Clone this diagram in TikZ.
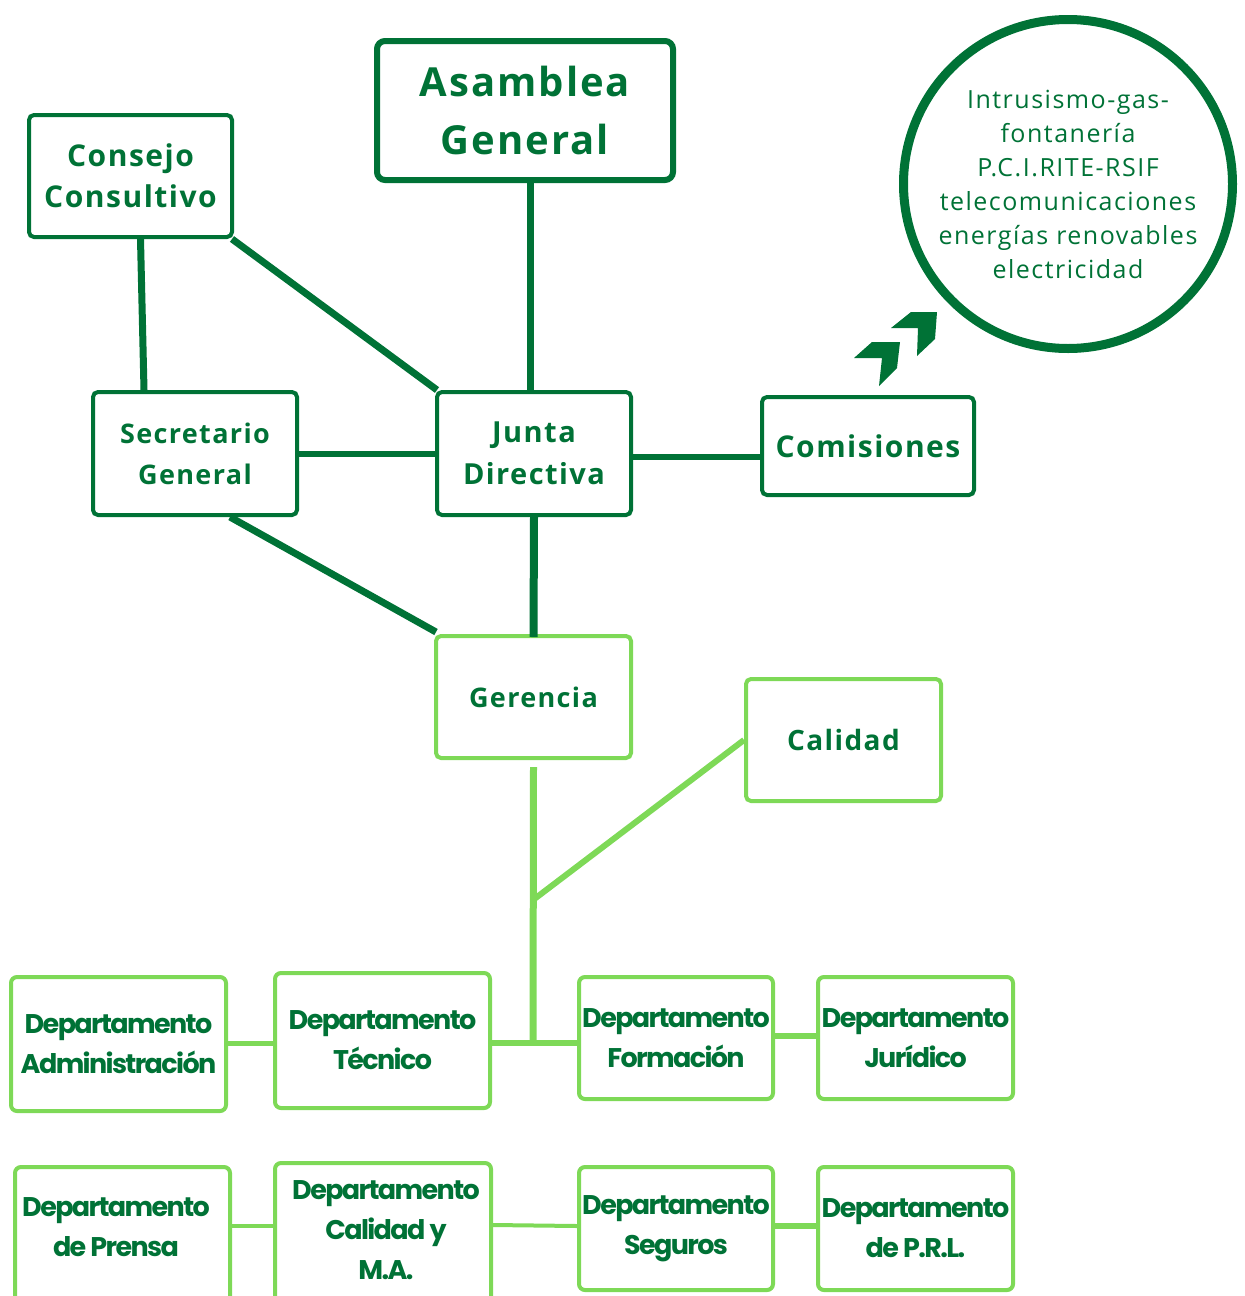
\documentclass[tikz,border=0pt]{standalone}
\usepackage{fontspec}
\setmainfont{Open Sans}
\newfontfamily\hfont{Open Sans}[LetterSpace=5]
\newfontfamily\cfont{Open Sans}[LetterSpace=6]
\newfontfamily\dfont{Poppins}[LetterSpace=-6]
\definecolor{dg}{RGB}{0,114,54}
\definecolor{lg}{RGB}{126,217,87}
\tikzset{
  topbox/.style={draw=dg, line width=4pt, rounded corners=5pt, text=dg, align=center, inner sep=0pt},
  deptbox/.style={draw=lg, line width=4pt, rounded corners=6pt, text=dg, align=center, inner sep=0pt,
    font=\dfont\bfseries\fontsize{27}{40}\selectfont},
  dline/.style={draw=dg, line width=7pt},
  lline/.style={draw=lg, line width=6pt},
  chev/.style={fill=dg, draw=none},
}
\newcommand\hf[2]{\hfont\bfseries\fontsize{#1}{#2}\selectfont}
\begin{document}
\begin{tikzpicture}[x=1pt,y=-1pt]
\useasboundingbox (0,0) rectangle (1245,1296);
\clip (0,0) rectangle (1245,1296);
% top level
\node[topbox, line width=6pt, rounded corners=8pt, minimum width=296pt, minimum height=139pt, font=\hf{40}{58}] (asam) at (525,110.5) {Asamblea\\General};
\node[topbox, minimum width=203pt, minimum height=122pt, font=\hf{30}{41}] (cons) at (130.5,176) {Consejo\\Consultivo};
\node[topbox, minimum width=204pt, minimum height=123pt, font=\hf{27}{41}] (secr) at (195,453.5) {Secretario\\General};
\node[topbox, minimum width=194pt, minimum height=123pt, font=\hf{29}{42}] (junta) at (534,453.5) {Junta\\Directiva};
\node[topbox, minimum width=212pt, minimum height=98pt, font=\hf{30}{40}] (comi) at (868,446) {Comisiones};
\node[circle, draw=dg, line width=9pt, minimum size=329pt, inner sep=0pt, text=dg, align=center,
  font=\cfont\fontsize{25}{34}\selectfont] (circ) at (1068,184) {Intrusismo-gas-\\fontanería\\P.C.I.RITE-RSIF\\telecomunicaciones\\energías renovables\\electricidad};
% chevrons
\path[chev] (854,358) -- (872,342) -- (900,342) -- (897,368) -- (879,386) -- (882,358) -- cycle;
\path[chev] (891,328) -- (911,312) -- (937,312) -- (935,339) -- (917,356) -- (918,328) -- cycle;
% gerencia level
\node[topbox, draw=lg, minimum width=195pt, minimum height=122pt, font=\hf{27}{40}] (ger) at (533.5,697) {Gerencia};
\node[topbox, draw=lg, minimum width=195pt, minimum height=122pt, font=\hf{28}{40}] (cal) at (843.5,740) {Calidad};
% departments
\node[deptbox, minimum width=215pt, minimum height=134pt] (adm) at (118.5,1044) {Departamento\\Administración};
\node[deptbox, minimum width=215pt, minimum height=135pt] (tec) at (382.5,1040.5) {Departamento\\Técnico};
\node[deptbox, minimum width=194pt, minimum height=122pt] (form) at (676,1038) {Departamento\\Formación};
\node[deptbox, minimum width=195pt, minimum height=122pt] (jur) at (915.5,1038) {Departamento\\Jurídico};
\node[deptbox, minimum width=215pt, minimum height=153pt] (pren) at (122.5,1243.5) {};
\node[text=dg, align=center, inner sep=0pt, font=\dfont\bfseries\fontsize{27}{40}\selectfont] (prent) at (116,1227) {Departamento\\de Prensa};
\node[deptbox, minimum width=216pt, minimum height=157pt] (calma) at (383,1241.5) {};
\node[text=dg, align=center, inner sep=0pt, font=\dfont\bfseries\fontsize{27}{40}\selectfont] (calmat) at (386,1230) {Departamento\\Calidad y\\M.A.};
\node[deptbox, minimum width=194pt, minimum height=123pt] (seg) at (676,1228.5) {Departamento\\Seguros};
\node[deptbox, minimum width=195pt, minimum height=123pt] (prl) at (915.5,1228.5) {Departamento\\de P.R.L.};
% dark connectors
\draw[dline] (asam.south -| 530,0) -- (junta.north -| 530,0);
\draw[dline] ([xshift=10pt]cons.south) -- ([xshift=-51pt]secr.north);
\draw[dline] ([xshift=-2pt]cons.south east) -- ([xshift=2pt]junta.north west);
\draw[dline, line width=6pt] (secr.east) -- (junta.west);
\draw[dline, line width=6pt] ([yshift=-3.5pt]junta.east) -- ([yshift=-3.5pt]junta.east -| comi.west);
\draw[dline, line width=8pt] (junta.south) -- ([yshift=-3pt]ger.north);
\draw[dline] ([xshift=35pt]secr.south) -- ([xshift=2pt,yshift=2pt]ger.north west);
% light connectors
\coordinate (hub) at (533,1043);
\coordinate (br) at (533,900);
\draw[lline, line width=7pt] ([yshift=-7pt]ger.south) -- (hub);
\draw[lline] (br) -- (cal.west);
\draw[lline] (tec.east |- hub) -- (form.west |- hub);
\draw[lline, line width=5pt] (adm.east |- hub) -- (tec.west |- hub);
\draw[lline] (form.east |- 0,1036) -- (jur.west |- 0,1036);
\draw[lline, line width=4pt] (pren.east |- 0,1226) -- (calma.west |- 0,1226);
\draw[lline, line width=4pt] (calma.east |- 0,1225) -- (seg.west |- 0,1226);
\draw[lline] (seg.east |- 0,1226) -- (prl.west |- 0,1226);
\end{tikzpicture}
\end{document}
